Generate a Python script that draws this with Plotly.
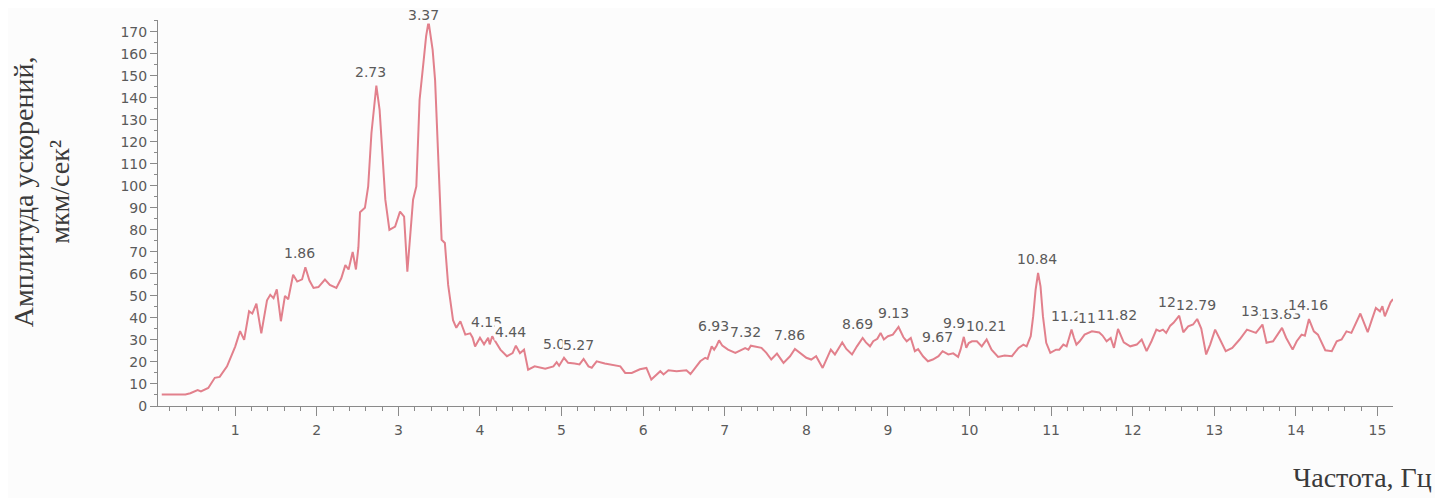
import plotly.graph_objects as go

# spectrum
freq = [0.10, 0.25, 0.39, 0.45, 0.54, 0.58, 0.67, 0.75, 0.81, 0.90,
        1.00, 1.06, 1.11, 1.17, 1.21, 1.26, 1.32, 1.39, 1.43, 1.47,
        1.51, 1.56, 1.61, 1.65, 1.71, 1.76, 1.82, 1.86, 1.91, 1.96,
        2.02, 2.10, 2.16, 2.24, 2.30, 2.35, 2.39, 2.44, 2.46, 2.48,
        2.51, 2.53, 2.59, 2.63, 2.67, 2.73, 2.77, 2.80, 2.84, 2.89,
        2.96, 3.02, 3.07, 3.11, 3.14, 3.18, 3.22, 3.26, 3.31, 3.34,
        3.37, 3.42, 3.45, 3.49, 3.53, 3.57, 3.61, 3.67, 3.71, 3.76,
        3.82, 3.88, 3.91, 3.94, 4.00, 4.05, 4.10, 4.12, 4.15, 4.25,
        4.33, 4.40, 4.44, 4.49, 4.54, 4.59, 4.67, 4.80, 4.90, 4.94,
        4.97, 5.03, 5.08, 5.16, 5.22, 5.27, 5.33, 5.37, 5.43, 5.53,
        5.62, 5.72, 5.78, 5.86, 5.96, 6.04, 6.10, 6.17, 6.21, 6.25,
        6.31, 6.41, 6.53, 6.58, 6.64, 6.70, 6.76, 6.79, 6.84, 6.87,
        6.90, 6.93, 6.97, 7.04, 7.13, 7.21, 7.25, 7.29, 7.32, 7.45,
        7.51, 7.57, 7.64, 7.72, 7.80, 7.86, 7.94, 8.00, 8.06, 8.12,
        8.20, 8.25, 8.30, 8.35, 8.39, 8.44, 8.49, 8.56, 8.62, 8.69,
        8.73, 8.78, 8.82, 8.87, 8.91, 8.95, 9.00, 9.06, 9.13, 9.19,
        9.23, 9.28, 9.33, 9.37, 9.43, 9.49, 9.55, 9.62, 9.67, 9.74,
        9.80, 9.86, 9.89, 9.93, 9.96, 9.99, 10.03, 10.09, 10.15, 10.21,
        10.27, 10.35, 10.43, 10.52, 10.60, 10.66, 10.70, 10.75, 10.78, 10.81,
        10.84, 10.87, 10.90, 10.94, 10.99, 11.06, 11.10, 11.15, 11.19, 11.25,
        11.28, 11.31, 11.35, 11.41, 11.50, 11.59, 11.63, 11.68, 11.73, 11.77,
        11.82, 11.89, 11.97, 12.05, 12.11, 12.17, 12.23, 12.29, 12.33, 12.37,
        12.41, 12.46, 12.50, 12.57, 12.62, 12.68, 12.74, 12.79, 12.84, 12.90,
        12.95, 13.01, 13.07, 13.14, 13.22, 13.31, 13.40, 13.51, 13.59, 13.64,
        13.72, 13.83, 13.88, 13.96, 14.01, 14.07, 14.11, 14.16, 14.22, 14.27,
        14.36, 14.44, 14.50, 14.56, 14.62, 14.68, 14.79, 14.85, 14.88, 14.93,
        14.98, 15.03, 15.06, 15.09, 15.16, 15.19]

amp = [5.2, 5.2, 5.2, 5.8, 7.2, 6.6, 8.2, 12.8, 13.2, 18.0,
       27.0, 34.0, 30.0, 43.0, 42.0, 46.5, 33.0, 48.0, 50.5, 49.0,
       53.0, 38.5, 50.0, 48.5, 59.6, 56.5, 57.5, 63.0, 57.0, 53.6,
       54.0, 57.4, 55.0, 53.6, 58.0, 64.0, 62.0, 70.0, 65.0, 62.0,
       72.0, 88.0, 90.0, 99.7, 124.0, 145.5, 134.5, 116.0, 93.7, 80.0,
       81.5, 88.3, 86.0, 61.0, 77.0, 93.7, 99.7, 139.0, 157.0, 168.0,
       174.5, 161.7, 148.0, 108.7, 75.5, 74.0, 55.0, 39.0, 35.5, 38.5,
       32.4, 33.0, 31.0, 27.0, 31.0, 28.0, 31.0, 28.0, 31.7, 25.6,
       22.6, 24.0, 27.4, 24.0, 25.6, 16.5, 18.0, 16.9, 18.0, 19.9,
       18.3, 21.9, 19.6, 19.3, 18.9, 21.4, 18.0, 17.4, 20.3, 19.3,
       18.8, 18.0, 15.0, 15.0, 16.7, 17.3, 12.0, 14.4, 15.8, 14.3,
       16.2, 15.8, 16.2, 14.5, 17.3, 20.3, 21.9, 21.4, 27.1, 25.6,
       27.4, 29.8, 27.4, 25.6, 24.1, 25.6, 26.3, 25.6, 27.4, 26.4,
       24.1, 21.1, 23.8, 19.6, 22.6, 25.9, 23.4, 21.9, 21.1, 22.6,
       17.3, 21.1, 25.6, 23.4, 25.6, 28.9, 25.9, 23.4, 27.1, 30.9,
       28.9, 27.1, 29.4, 30.5, 33.2, 30.2, 31.7, 32.4, 35.9, 31.2,
       29.4, 30.9, 24.9, 25.8, 22.6, 20.3, 21.1, 22.6, 24.9, 23.4,
       23.9, 22.3, 25.6, 31.4, 26.4, 28.6, 29.4, 29.4, 27.1, 30.2,
       25.6, 22.3, 22.9, 22.6, 26.4, 27.9, 27.1, 31.7, 40.7, 52.8,
       60.4, 54.3, 40.7, 28.7, 24.1, 25.6, 25.6, 27.9, 27.1, 34.7,
       31.0, 27.9, 29.4, 32.4, 33.9, 33.4, 32.0, 29.4, 30.9, 26.4,
       35.0, 28.9, 27.1, 27.9, 30.2, 24.9, 29.4, 34.7, 34.0, 34.7,
       33.2, 36.5, 37.8, 41.0, 33.5, 36.2, 37.0, 39.5, 35.2, 23.4,
       28.0, 34.7, 30.2, 24.9, 26.4, 30.2, 34.7, 33.2, 37.0, 28.7,
       29.4, 35.5, 31.0, 25.6, 29.4, 32.4, 31.9, 39.5, 33.9, 32.4,
       25.3, 24.9, 29.4, 30.2, 33.9, 33.2, 42.0, 36.9, 33.5, 39.1,
       44.5, 43.0, 45.3, 40.7, 47.1, 48.6]

# peak markers
peak_labels = ["1.86", "2.73", "3.37", "4.15", "4.44", "5.03", "5.27", "6.93",
               "7.32", "7.86", "8.69", "9.13", "9.67", "9.93", "10.21", "10.84",
               "11.25", "11.59", "11.82", "12.57", "12.79", "13.59", "13.83", "14.16"]
peak_freq = [1.86, 2.73, 3.37, 4.15, 4.44, 5.03, 5.27, 6.93,
             7.32, 7.86, 8.69, 9.13, 9.67, 9.93, 10.21, 10.84,
             11.25, 11.59, 11.82, 12.57, 12.79, 13.59, 13.83, 14.16]
peak_amp = [63.0, 145.5, 174.5, 31.7, 27.4, 21.9, 21.4, 29.8,
            27.4, 25.9, 30.9, 35.9, 24.9, 31.4, 30.2, 60.4,
            34.7, 33.4, 35.0, 41.0, 39.5, 37.0, 35.5, 39.5]

bg = "#fcfcfc"
axis_col = "#8a8a8a"
tick_font = dict(family="DejaVu Sans", size=14, color="#5a5a5a")

# the page body adds an 8px margin, so the figure is drawn 8px smaller
W, H = 1435, 490
ML, MR, MT, MB = 150, 50, 12, 92
pw, ph = W - ML - MR, H - MT - MB
y_top = 175.3

fig = go.Figure()
fig.add_trace(go.Scatter(x=freq, y=amp, mode="lines",
                         line=dict(color="#e2808c", width=2),
                         hoverinfo="x+y", showlegend=False))

for lab, fx, fy in zip(peak_labels, peak_freq, peak_amp):
    # keep the label inside the figure when the peak is near the top
    room = MT + (y_top - fy) / y_top * ph - 7
    fig.add_annotation(x=fx, y=fy, text=lab, showarrow=False,
                       xanchor="left", yanchor="middle", xshift=-22,
                       yshift=min(14, room),
                       bgcolor=bg, borderpad=0, font=tick_font)

serif = dict(family="Liberation Serif", size=28, color="#3a3a3a")
fig.add_annotation(xref="paper", yref="paper", x=(33 - ML) / pw, y=0.554,
                   text="Амплитуда ускорений,<br>мкм/сек²",
                   textangle=-90, showarrow=False, xanchor="center", yanchor="middle",
                   font=serif)
fig.add_annotation(xref="paper", yref="paper", x=(1426 - ML) / pw, y=-0.1865,
                   text="Частота, Гц", showarrow=False,
                   xanchor="right", yanchor="middle", font=serif)

fig.update_xaxes(range=[0.054, 15.19], dtick=1, tick0=0,
                 showline=True, linecolor=axis_col, linewidth=1,
                 ticks="outside", ticklen=9, tickcolor=axis_col,
                 minor=dict(dtick=0.2, ticks="outside", ticklen=4, tickcolor=axis_col),
                 ticklabelstandoff=2,
                 showgrid=False, zeroline=False, tickfont=tick_font)
fig.update_yaxes(range=[0, y_top], dtick=10, tick0=0,
                 showline=True, linecolor=axis_col, linewidth=1,
                 ticks="outside", ticklen=7, tickcolor=axis_col,
                 minor=dict(dtick=5, ticks="outside", ticklen=3, tickcolor=axis_col),
                 showgrid=False, zeroline=False, tickfont=tick_font)

fig.update_layout(width=W, height=H,
                  margin=dict(l=ML, r=MR, t=MT, b=MB),
                  paper_bgcolor=bg, plot_bgcolor=bg)

fig.write_html("out.html")
